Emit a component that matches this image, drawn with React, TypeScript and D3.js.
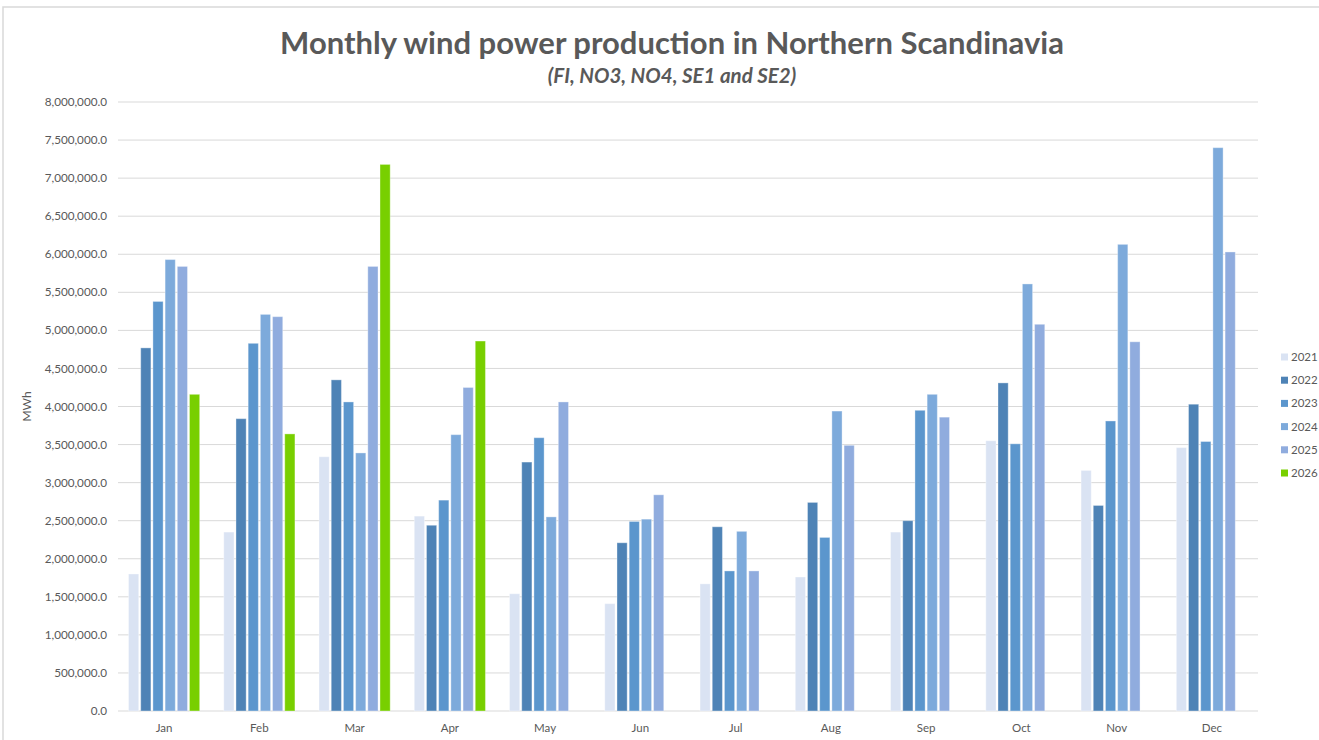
import React from "react";
import * as d3 from "d3";

const months = ["Jan", "Feb", "Mar", "Apr", "May", "Jun", "Jul", "Aug", "Sep", "Oct", "Nov", "Dec"];
const years = ["2021", "2022", "2023", "2024", "2025", "2026"];
const colors = ["#dae3f3", "#4e83b6", "#5b96cd", "#7daadb", "#90acde", "#78cf00"];

const y2021 = [1.80, 2.35, 3.34, 2.56, 1.54, 1.41, 1.67, 1.76, 2.35, 3.55, 3.16, 3.46];
const y2022 = [4.77, 3.84, 4.35, 2.44, 3.27, 2.21, 2.42, 2.74, 2.50, 4.31, 2.70, 4.03];
const y2023 = [5.38, 4.83, 4.06, 2.77, 3.59, 2.49, 1.84, 2.28, 3.95, 3.51, 3.81, 3.54];
const y2024 = [5.93, 5.21, 3.39, 3.63, 2.55, 2.52, 2.36, 3.94, 4.16, 5.61, 6.13, 7.40];
const y2025 = [5.84, 5.18, 5.84, 4.25, 4.06, 2.84, 1.84, 3.49, 3.86, 5.08, 4.85, 6.03];
const y2026 = [4.16, 3.64, 7.18, 4.86, null, null, null, null, null, null, null, null];

const seriesValues: (number | null)[][] = [y2021, y2022, y2023, y2024, y2025, y2026];
const yTicks = d3.range(0, 8000001, 500000);

const W = 1319;
const H = 740;
const left = 118;
const right = 1258;
const top = 102;
const bottom = 711;
const FONT = "Lato, 'Open Sans', sans-serif";
const TXT = "#595959";

export default function App() {
  const x0 = d3.scaleBand<string>().domain(months).range([left, right]).paddingInner(0.232).paddingOuter(0.1);
  const x1 = d3.scaleBand<string>().domain(years).range([0, x0.bandwidth()]).padding(0);
  const y = d3.scaleLinear().domain([0, 8000000]).range([bottom, top]);
  const fmt = d3.format(",.1f");
  const bw = x1.bandwidth();

  return (
    <svg width={W} height={H} style={{ position: "absolute", left: 0, top: 0, background: "#fff" }}>
      <rect x={3} y={7} width={W + 10} height={H + 10} fill="#fff" stroke="#d9d9d9" strokeWidth={1.5} />
      <text x={672} y={54} textAnchor="middle" fontFamily={FONT} fontWeight="bold" fontSize={31} fill={TXT}>
        Monthly wind power production in Northern Scandinavia
      </text>
      <text x={672} y={83} textAnchor="middle" fontFamily={FONT} fontWeight="bold" fontStyle="italic" fontSize={20.5} fill={TXT}>
        (FI, NO3, NO4, SE1 and SE2)
      </text>
      {yTicks.map((t) => (
        <g key={t}>
          <line x1={left} x2={right} y1={y(t)} y2={y(t)} stroke="#d9d9d9" strokeWidth={1} />
          <text x={107} y={y(t)} dy="0.35em" textAnchor="end" fontFamily={FONT} fontSize={11.7} fill={TXT}>
            {fmt(t)}
          </text>
        </g>
      ))}
      <text transform={`translate(31,${(top + bottom) / 2}) rotate(-90)`} textAnchor="middle" fontFamily={FONT} fontSize={12} fill={TXT}>
        MWh
      </text>
      {months.map((m, i) => (
        <g key={m} transform={`translate(${x0(m)},0)`}>
          {years.map((yr, j) => {
            const v = seriesValues[j][i];
            if (v == null) return null;
            const val = v * 1000000;
            return (
              <rect
                key={yr}
                x={(x1(yr) as number) + 1}
                y={y(val)}
                width={bw - 2}
                height={y(0) - y(val)}
                fill={colors[j]}
                stroke="#ffffff"
                strokeOpacity={0.35}
                strokeWidth={1}
              />
            );
          })}
        </g>
      ))}
      {months.map((m) => (
        <text key={m} x={(x0(m) as number) + x0.bandwidth() / 2} y={732} textAnchor="middle" fontFamily={FONT} fontSize={11.5} fill={TXT}>
          {m}
        </text>
      ))}
      {years.map((yr, j) => (
        <g key={yr} transform={`translate(1281,${357 + j * 23.2})`}>
          <rect x={0} y={-3.5} width={7} height={7} fill={colors[j]} />
          <text x={10} y={0} dy="0.35em" fontFamily={FONT} fontSize={11.5} fill={TXT}>
            {yr}
          </text>
        </g>
      ))}
    </svg>
  );
}
